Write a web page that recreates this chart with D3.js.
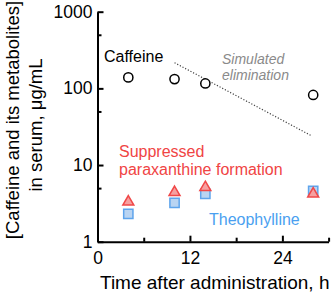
<!DOCTYPE html>
<html>
<head>
<meta charset="utf-8">
<script src="https://cdn.jsdelivr.net/npm/d3@7"></script>
<style>
  body { margin: 0; background: #fff; }
  svg { display: block; font-family: "Liberation Sans", Arial, sans-serif; }
</style>
</head>
<body>
<svg id="chart"></svg>
<script>
// sampling times (h) and serum concentrations (ug/mL)
const times = [4, 10, 14, 28];
const caffeine = [139, 132, 116, 82];
const paraxanthine = [3.3, 4.4, 5.1, 4.2];
const theophylline = [2.3, 3.2, 4.2, 4.6];

// simulated elimination line end points
const simTimes = [10, 27.8];
const simValues = [216, 24];

const xTicks = [0, 12, 24];
const xMinorTicks = [6, 18, 30];
const yTicks = [1, 10, 100, 1000];
const yMinorTicks = [5, 50, 500];

const width = 331, height = 292;
const margin = { top: 11.7, right: 2.4, bottom: 50.3, left: 97.5 };

const svg = d3.select("#chart")
  .attr("width", width)
  .attr("height", height);

const x = d3.scaleLinear()
  .domain([0, 30])
  .range([margin.left, width - margin.right]);

const y = d3.scaleLog()
  .domain([1, 1000])
  .range([height - margin.bottom, margin.top]);

// axes, ticks pointing inward
const xAxis = svg.append("g")
  .attr("transform", `translate(0,${height - margin.bottom})`)
  .call(d3.axisBottom(x).tickValues(xTicks).tickFormat(d3.format("d"))
    .tickSizeInner(-6).tickSizeOuter(0).tickPadding(10));

const xMinor = svg.append("g")
  .attr("transform", `translate(0,${height - margin.bottom})`)
  .call(d3.axisBottom(x).tickValues(xMinorTicks).tickFormat("")
    .tickSizeInner(-4).tickSizeOuter(0));
xMinor.select(".domain").remove();

const yAxis = svg.append("g")
  .attr("transform", `translate(${margin.left},0)`)
  .call(d3.axisLeft(y).tickValues(yTicks).tickFormat(d3.format("d"))
    .tickSizeInner(-6).tickSizeOuter(0).tickPadding(5));

const yMinor = svg.append("g")
  .attr("transform", `translate(${margin.left},0)`)
  .call(d3.axisLeft(y).tickValues(yMinorTicks).tickFormat("")
    .tickSizeInner(-4).tickSizeOuter(0));
yMinor.select(".domain").remove();

svg.selectAll(".domain, .tick line")
  .attr("stroke", "#000")
  .attr("stroke-width", 2);

svg.selectAll(".tick text")
  .attr("font-family", "Liberation Sans, Arial, sans-serif")
  .attr("font-size", 17.5)
  .attr("fill", "#000");

// axis titles
svg.append("text")
  .attr("x", 100)
  .attr("y", 289)
  .attr("font-size", 19)
  .text("Time after administration, h");

const yTitle = svg.append("text")
  .attr("transform", "rotate(-90)")
  .attr("text-anchor", "middle")
  .attr("font-size", 18.5);
yTitle.append("tspan").attr("x", -120).attr("y", 18.5).text("[Caffeine and its metabolites]");
yTitle.append("tspan").attr("x", -125).attr("y", 41.5).text("in serum, \u03bcg/mL");

// simulated elimination
svg.append("line")
  .attr("x1", x(simTimes[0])).attr("y1", y(simValues[0]))
  .attr("x2", x(simTimes[1])).attr("y2", y(simValues[1]))
  .attr("stroke", "#444")
  .attr("stroke-width", 1.2)
  .attr("stroke-dasharray", "1.2,1.8");

// theophylline squares
svg.selectAll(".theo")
  .data(times.map((t, i) => [t, theophylline[i]]))
  .join("path")
  .attr("class", "theo")
  .attr("d", d3.symbol(d3.symbolSquare, 86))
  .attr("transform", d => `translate(${x(d[0])},${y(d[1])})`)
  .attr("fill", "#b9d4f2")
  .attr("stroke", "#5ea4ec")
  .attr("stroke-width", 1.5);

// paraxanthine triangles
svg.selectAll(".para")
  .data(times.map((t, i) => [t, paraxanthine[i]]))
  .join("path")
  .attr("class", "para")
  .attr("d", d3.symbol(d3.symbolTriangle, 52))
  .attr("transform", d => `translate(${x(d[0])},${y(d[1])})`)
  .attr("fill", "#f6a0a0")
  .attr("stroke", "#f04848")
  .attr("stroke-width", 1.5);

// caffeine circles
svg.selectAll(".caf")
  .data(times.map((t, i) => [t, caffeine[i]]))
  .join("circle")
  .attr("class", "caf")
  .attr("cx", d => x(d[0]))
  .attr("cy", d => y(d[1]))
  .attr("r", 4.6)
  .attr("fill", "#fff")
  .attr("stroke", "#000")
  .attr("stroke-width", 1.5);

// labels
svg.append("text")
  .attr("x", 104).attr("y", 62)
  .attr("font-size", 16)
  .text("Caffeine");

const sim = svg.append("text")
  .attr("font-size", 14)
  .attr("font-style", "italic")
  .attr("fill", "#8a8a8a");
sim.append("tspan").attr("x", 222).attr("y", 63.5).text("Simulated");
sim.append("tspan").attr("x", 222).attr("y", 80).text("elimination");

const para = svg.append("text")
  .attr("font-size", 16)
  .attr("fill", "#f04444");
para.append("tspan").attr("x", 119).attr("y", 157).text("Suppressed");
para.append("tspan").attr("x", 119).attr("y", 175).text("paraxanthine formation");

svg.append("text")
  .attr("x", 209).attr("y", 225)
  .attr("font-size", 16)
  .attr("fill", "#4a9ff0")
  .text("Theophylline");
</script>
</body>
</html>
